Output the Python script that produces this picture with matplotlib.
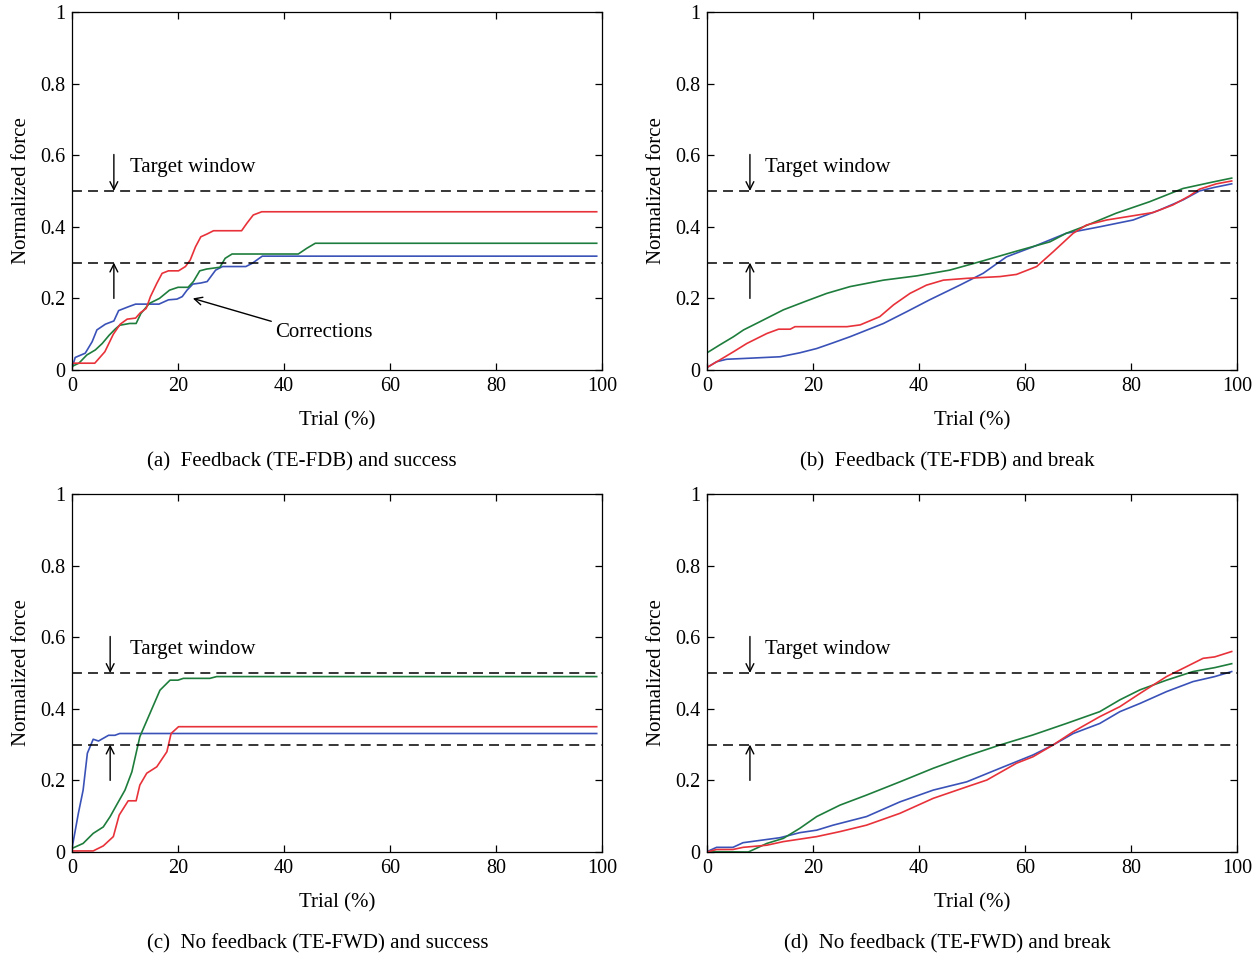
import matplotlib
matplotlib.use("Agg")
import matplotlib.pyplot as plt

plt.rcParams['font.family'] = ['Liberation Serif', 'DejaVu Serif']

# ---------------- data ----------------
# Panel (a): Feedback (TE-FDB) and success
a_red_x = [0, 4.3, 6.2, 7.8, 9.1, 10.4, 12, 12.9, 14, 14.8, 16, 17, 18.2, 20.1, 21.4, 22.3, 23.3, 24.3, 25.5, 26.7, 32, 33, 34.2, 35.8, 99]
a_red_y = [0.019, 0.019, 0.051, 0.10, 0.128, 0.142, 0.145, 0.16, 0.172, 0.205, 0.242, 0.27, 0.277, 0.277, 0.289, 0.307, 0.344, 0.372, 0.38, 0.389, 0.389, 0.41, 0.433, 0.442, 0.442]
a_green_x = [0, 1.3, 2.8, 4.4, 5.7, 7, 8.2, 9, 10.9, 12.1, 13, 14.6, 16.5, 18.4, 20, 21.9, 22.9, 24.1, 25.4, 27.9, 28.9, 30.2, 42.7, 44.3, 45.9, 99]
a_green_y = [0.01, 0.019, 0.042, 0.056, 0.074, 0.097, 0.115, 0.125, 0.13, 0.13, 0.158, 0.186, 0.2, 0.223, 0.231, 0.231, 0.247, 0.277, 0.282, 0.287, 0.312, 0.324, 0.324, 0.34, 0.354, 0.354]
a_blue_x = [0, 0.6, 2.5, 3.8, 4.7, 6.3, 7.9, 8.8, 10.7, 12, 16.4, 18.2, 19.8, 20.8, 21.7, 22.8, 24.3, 25.5, 27.1, 28.4, 32.8, 34, 35.9, 99]
a_blue_y = [0.005, 0.035, 0.047, 0.079, 0.112, 0.128, 0.137, 0.166, 0.177, 0.184, 0.184, 0.196, 0.198, 0.205, 0.223, 0.24, 0.243, 0.247, 0.279, 0.289, 0.289, 0.298, 0.318, 0.318]

# Panel (b): Feedback (TE-FDB) and break
b_green_x = [0, 2.4, 5, 6.9, 10, 14.4, 18.8, 22.6, 27, 33.3, 39.6, 45.8, 52.1, 58.4, 64.7, 67.8, 71, 77.2, 83.5, 89.8, 95.4, 99]
b_green_y = [0.048, 0.07, 0.093, 0.112, 0.135, 0.168, 0.193, 0.214, 0.233, 0.251, 0.263, 0.279, 0.305, 0.332, 0.358, 0.382, 0.40, 0.438, 0.47, 0.507, 0.525, 0.536]
b_red_x = [0, 2.4, 5, 7.5, 11.3, 13.5, 15.7, 16.6, 26.4, 28.9, 32.6, 35.2, 38.3, 41.4, 44.6, 49, 55.3, 58.4, 62.2, 65.3, 69.1, 71.6, 75.4, 79.2, 84.2, 87.9, 91, 92.9, 96.1, 99]
b_red_y = [0.007, 0.028, 0.051, 0.074, 0.102, 0.114, 0.114, 0.121, 0.121, 0.126, 0.149, 0.182, 0.214, 0.237, 0.251, 0.256, 0.261, 0.267, 0.289, 0.33, 0.382, 0.405, 0.419, 0.428, 0.44, 0.461, 0.486, 0.505, 0.52, 0.528]
b_blue_x = [0, 1.8, 3.7, 8.1, 13.8, 17.5, 20.7, 23.8, 27, 33.3, 37.7, 42, 47.7, 52.1, 56.5, 61.5, 67.8, 74.1, 80.4, 85.4, 89.8, 92.9, 95.7, 99]
b_blue_y = [0.007, 0.023, 0.03, 0.033, 0.037, 0.048, 0.06, 0.076, 0.093, 0.13, 0.163, 0.196, 0.237, 0.27, 0.316, 0.344, 0.382, 0.40, 0.419, 0.447, 0.475, 0.50, 0.51, 0.52]

# Panel (c): No feedback (TE-FWD) and success
c_blue_x = [0, 1.2, 2.1, 2.9, 4, 5, 6.9, 8.1, 9, 99]
c_blue_y = [0.01, 0.108, 0.173, 0.276, 0.315, 0.31, 0.326, 0.326, 0.331, 0.331]
c_green_x = [0, 2.1, 4, 5.9, 7.2, 8.4, 10, 11.3, 12.8, 14.7, 16.6, 18.5, 20, 21, 26, 27.3, 99]
c_green_y = [0.01, 0.024, 0.052, 0.07, 0.099, 0.131, 0.173, 0.224, 0.322, 0.387, 0.452, 0.48, 0.48, 0.485, 0.485, 0.49, 0.49]
c_red_x = [0, 4, 5.9, 7.8, 8.9, 10.6, 12.1, 12.8, 14.1, 16, 17.9, 18.7, 20.1, 99]
c_red_y = [0.003, 0.003, 0.017, 0.043, 0.103, 0.143, 0.143, 0.187, 0.22, 0.238, 0.28, 0.331, 0.35, 0.35]

# Panel (d): No feedback (TE-FWD) and break
d_green_x = [0, 7.8, 11.3, 14.4, 17.5, 20.7, 25.1, 30.1, 36.4, 42.7, 49, 55.3, 61.5, 67.8, 74.1, 77.9, 81.7, 86.7, 91.7, 95.8, 99]
d_green_y = [0.001, 0.0, 0.024, 0.038, 0.066, 0.099, 0.131, 0.159, 0.196, 0.234, 0.268, 0.299, 0.327, 0.359, 0.392, 0.425, 0.453, 0.48, 0.504, 0.515, 0.526]
d_blue_x = [0, 1.8, 4.9, 6.8, 11.3, 13.8, 17.5, 20.7, 23.8, 30.1, 36.4, 42.7, 49, 55.3, 61.5, 65.3, 69.1, 74.1, 77.9, 81.7, 86.7, 91.7, 95.8, 99]
d_blue_y = [0.001, 0.013, 0.013, 0.026, 0.035, 0.04, 0.054, 0.061, 0.075, 0.099, 0.14, 0.173, 0.196, 0.234, 0.271, 0.299, 0.331, 0.359, 0.392, 0.415, 0.448, 0.476, 0.49, 0.504]
d_red_x = [0, 1.8, 4.9, 6.8, 11.3, 14.4, 20.7, 25.1, 30.1, 36.4, 42.7, 49, 52.8, 58.4, 61.5, 65.3, 69.1, 74.1, 77.9, 81.7, 86.7, 90.5, 93.6, 95.8, 99]
d_red_y = [0.0, 0.007, 0.007, 0.013, 0.019, 0.029, 0.043, 0.057, 0.075, 0.108, 0.15, 0.182, 0.201, 0.248, 0.266, 0.299, 0.336, 0.378, 0.406, 0.443, 0.49, 0.518, 0.541, 0.545, 0.56]

window_low = 0.3
window_high = 0.5

x_ticks = [0, 20, 40, 60, 80, 100]
y_ticks = [0, 0.2, 0.4, 0.6, 0.8, 1]
y_tick_labels = ['0', '0.2', '0.4', '0.6', '0.8', '1']

captions = ['(a)  Feedback (TE-FDB) and success',
            '(b)  Feedback (TE-FDB) and break',
            '(c)  No feedback (TE-FWD) and success',
            '(d)  No feedback (TE-FWD) and break']

RED = '#e8323a'
GREEN = '#1e7d3c'
BLUE = '#3a52b8'

panels = [
    [(a_blue_x, a_blue_y, BLUE), (a_green_x, a_green_y, GREEN), (a_red_x, a_red_y, RED)],
    [(b_blue_x, b_blue_y, BLUE), (b_green_x, b_green_y, GREEN), (b_red_x, b_red_y, RED)],
    [(c_blue_x, c_blue_y, BLUE), (c_green_x, c_green_y, GREEN), (c_red_x, c_red_y, RED)],
    [(d_blue_x, d_blue_y, BLUE), (d_green_x, d_green_y, GREEN), (d_red_x, d_red_y, RED)],
]

W, H = 1260, 956
fig = plt.figure(figsize=(W / 100, H / 100), dpi=100)

# axes boxes in pixels (left, top, right, bottom)
boxes = [(72, 12, 602, 370), (707, 12, 1237, 370), (72, 494, 602, 852), (707, 494, 1237, 852)]
arrow_x = [7.9, 8.1, 7.2, 8.1]

TICK_FS = 14.5
LABEL_FS = 15
for i, (box, series) in enumerate(zip(boxes, panels)):
    l, t, r, b = box
    ax = fig.add_axes([l / W, 1 - b / H, (r - l) / W, (b - t) / H])
    for xs, ys, c in series:
        ax.plot(xs, ys, color=c, lw=1.2)
    for yv in (window_low, window_high):
        ax.axhline(yv, color='black', lw=1.1, ls=(0, (6.5, 4)))
    ax.set_xlim(0, 100)
    ax.set_ylim(0, 1)
    ax.set_xticks(x_ticks)
    ax.set_yticks(y_ticks)
    ax.set_yticklabels(y_tick_labels)
    ax.tick_params(direction='in', length=5, width=0.9, top=True, right=True,
                   labelsize=TICK_FS, pad=5)
    for sp in ax.spines.values():
        sp.set_linewidth(0.9)
    ax.set_xlabel('Trial (%)', fontsize=LABEL_FS, labelpad=11)
    ax.set_ylabel('Normalized force', fontsize=LABEL_FS, labelpad=6)

    ax0 = arrow_x[i]
    ax.annotate('', xy=(ax0, window_high), xytext=(ax0, 0.602),
                arrowprops=dict(arrowstyle='->', color='black', lw=1.0,
                                shrinkA=0, shrinkB=0, mutation_scale=14))
    ax.annotate('', xy=(ax0, window_low), xytext=(ax0, 0.2),
                arrowprops=dict(arrowstyle='->', color='black', lw=1.0,
                                shrinkA=0, shrinkB=0, mutation_scale=14))
    ax.text(10.9, 0.567, 'Target window', fontsize=15, va='center', ha='left')

    if i == 0:
        ax.annotate('', xy=(22.8, 0.2), xytext=(37.6, 0.136),
                    arrowprops=dict(arrowstyle='->', color='black', lw=1.0,
                                    shrinkA=0, shrinkB=0, mutation_scale=14))
        ax.text(38.3, 0.106, 'Corrections', fontsize=15, va='center', ha='left')

# captions
CAP_FS = 15
fig.text(147 / W, 1 - 462 / H, captions[0], fontsize=CAP_FS, ha='left', va='center')
fig.text(947 / W, 1 - 462 / H, captions[1], fontsize=CAP_FS, ha='center', va='center')
fig.text(147 / W, 1 - 944 / H, captions[2], fontsize=CAP_FS, ha='left', va='center')
fig.text(947 / W, 1 - 944 / H, captions[3], fontsize=CAP_FS, ha='center', va='center')

fig.savefig('out.png', dpi=100)
